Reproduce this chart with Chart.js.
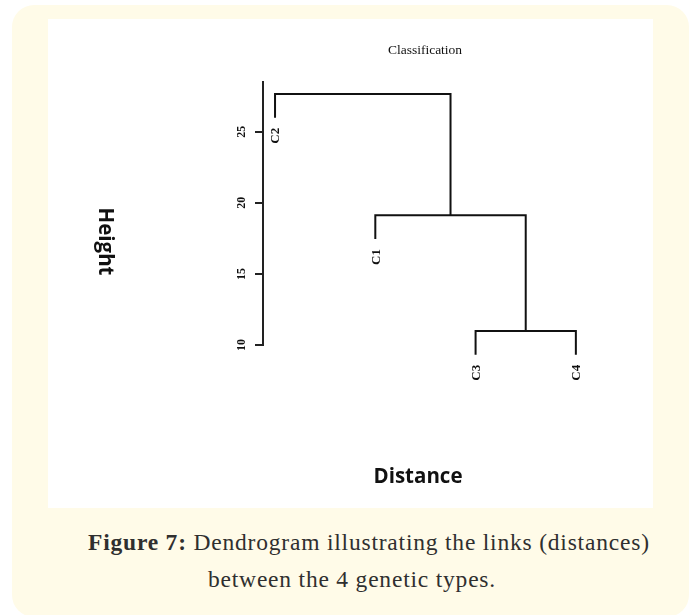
<!DOCTYPE html>
<html>
<head>
<meta charset="utf-8">
<script src="https://cdn.jsdelivr.net/npm/chart.js@4.4.1/dist/chart.umd.min.js"></script>
<style>
  html, body { margin: 0; padding: 0; background: #fff; }
  body { width: 692px; height: 615px; position: relative; overflow: hidden; }
  #card { position: absolute; left: 12px; top: 5px; width: 677px; height: 612px; background: #fffbe8; border-radius: 22px; }
  #panel { position: absolute; left: 48px; top: 19px; width: 605px; height: 489px; background: #fff; }
  .cap { position: absolute; white-space: nowrap; font-family: "Liberation Serif", serif;
         font-size: 23.5px; letter-spacing: 0.8px; line-height: 37px; color: #2f2f2f; }
</style>
</head>
<body>
<div id="card"></div>
<div id="panel"><canvas id="dendro" width="605" height="489"></canvas></div>
<div class="cap" style="left:88px; top:524px;"><b>Figure 7:</b> Dendrogram illustrating the links (distances)</div>
<div class="cap" style="left:208px; top:561px;">between the 4 genetic types.</div>

<script>
// dendrogram data (R hclust style)
var leafNames = ['C1', 'C2', 'C3', 'C4'];
var leafOrder = [2, 1, 3, 4];          // left to right
var mergeA = [-3, -1, -2];             // negative = leaf, positive = earlier merge
var mergeB = [-4, 1, 2];
var mergeHeights = [10.98, 19.12, 27.65];
var hang = 1.67;
var yTicks = [10, 15, 20, 25];

// build the U shaped segments from the merges
var nodeX = [];
var segments = [];
var leafMarks = [];

function childInfo(id, h) {
    if (id < 0) {
        var x = leafOrder.indexOf(-id) + 1;
        leafMarks.push({ name: leafNames[-id - 1], x: x, y: h - hang });
        return { x: x, y: h - hang };
    }
    return { x: nodeX[id - 1], y: mergeHeights[id - 1] };
}

for (var i = 0; i < mergeHeights.length; i++) {
    var h = mergeHeights[i];
    var a = childInfo(mergeA[i], h);
    var b = childInfo(mergeB[i], h);
    nodeX.push((a.x + b.x) / 2);
    segments.push([
        { x: a.x, y: a.y }, { x: a.x, y: h },
        { x: b.x, y: h }, { x: b.x, y: b.y }
    ]);
}

var datasets = segments.map(function (pts) {
    return {
        data: pts,
        showLine: true,
        borderColor: '#111',
        borderWidth: 2,
        borderCapStyle: 'butt',
        borderJoinStyle: 'miter',
        pointRadius: 0,
        tension: 0,
        clip: false
    };
});

// texts drawn against the scales
var labelPlugin = {
    id: 'dendroLabels',
    afterDraw: function (chart) {
        var ctx = chart.ctx;
        var xs = chart.scales.x, ys = chart.scales.y;
        ctx.save();
        ctx.fillStyle = '#111';

        // title
        ctx.font = '13.5px "Liberation Serif"';
        ctx.textAlign = 'center';
        ctx.textBaseline = 'middle';
        ctx.fillText('Classification', 377, 31);

        // y tick labels, rotated
        ctx.font = 'bold 12px "Liberation Serif"';
        yTicks.forEach(function (v) {
            var y = ys.getPixelForValue(v);
            ctx.save();
            ctx.translate(194, y);
            ctx.rotate(-Math.PI / 2);
            ctx.textAlign = 'center';
            ctx.textBaseline = 'middle';
            ctx.fillText(String(v), 0, 0);
            ctx.restore();
        });

        // leaf labels
        ctx.font = 'bold 13px "Liberation Serif"';
        leafMarks.forEach(function (m) {
            var x = xs.getPixelForValue(m.x);
            var y = ys.getPixelForValue(m.y);
            ctx.save();
            ctx.translate(x + 1, y + 10);
            ctx.rotate(-Math.PI / 2);
            ctx.textAlign = 'right';
            ctx.textBaseline = 'middle';
            ctx.fillText(m.name, 0, 0);
            ctx.restore();
        });

        // axis titles
        ctx.font = 'bold 20.5px "Open Sans"';
        ctx.save();
        ctx.translate(57, 222.5);
        ctx.rotate(Math.PI / 2);
        ctx.textAlign = 'center';
        ctx.textBaseline = 'middle';
        ctx.fillText('Height', 0, 0);
        ctx.restore();

        ctx.textAlign = 'center';
        ctx.textBaseline = 'middle';
        ctx.fillText('Distance', 370, 458);
        ctx.restore();
    }
};

new Chart(document.getElementById('dendro').getContext('2d'), {
    type: 'scatter',
    data: { datasets: datasets },
    options: {
        responsive: false,
        animation: false,
        devicePixelRatio: 1,
        layout: { padding: { left: 0, top: 63, right: 27, bottom: 163 } },
        plugins: { legend: { display: false }, tooltip: { enabled: false } },
        scales: {
            x: { type: 'linear', min: 0.88, max: 4.5, display: false },
            y: {
                type: 'linear',
                min: 10,
                max: 28.5,
                afterFit: function (scale) { scale.width = 215; },
                ticks: { display: false, stepSize: 5, includeBounds: false },
                grid: { display: true, drawOnChartArea: false, drawTicks: true, tickLength: 8, color: '#222', lineWidth: 2 },
                border: { display: true, color: '#222', width: 2 }
            }
        }
    },
    plugins: [labelPlugin]
});
</script>
</body>
</html>
